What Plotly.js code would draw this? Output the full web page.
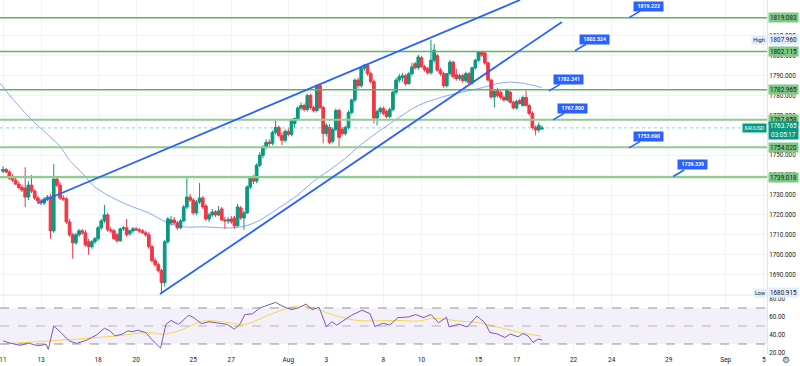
<!DOCTYPE html>
<html><head><meta charset="utf-8">
<script src="https://cdn.plot.ly/plotly-3.0.1.min.js"></script>
<style>html,body{margin:0;padding:0;background:#fff;}#chart{width:800px;height:366px;}</style>
</head><body><div id="chart"></div>
<script>
// ---- XAUUSD 4H candles (Jul 11 – Aug 18) ----
const openP = [
1742.0,1742.8,1741.6,1738.5,1737.5,1735.5,1733.8,1733.5,1729.0,1735.0,
1732.0,1728.5,1727.0,1726.0,1728.0,1729.0,1712.0,1738.0,1735.0,1728.5,
1728.0,1716.5,1710.0,1706.0,1710.0,1712.0,1711.0,1706.5,1704.0,1706.5,
1708.0,1713.5,1717.0,1720.0,1712.5,1712.0,1710.0,1707.0,1713.0,1713.5,
1710.5,1712.0,1713.0,1712.5,1712.0,1711.0,1710.0,1704.0,1697.0,1695.0,
1692.0,1686.0,1706.5,1716.0,1717.5,1716.0,1713.5,1717.0,1724.0,1729.0,
1727.5,1721.0,1726.5,1728.5,1724.5,1718.0,1720.0,1721.5,1720.0,1723.0,
1717.5,1717.0,1718.0,1718.5,1714.5,1723.5,1718.5,1721.0,1734.0,1738.5,
1737.0,1745.0,1750.0,1754.0,1756.5,1756.0,1761.5,1764.0,1760.0,1757.5,
1762.0,1760.5,1766.0,1768.5,1773.8,1775.0,1773.0,1780.0,1774.0,1772.5,
1785.0,1774.0,1761.0,1764.0,1757.0,1763.0,1772.5,1763.0,1761.0,1764.0,
1771.5,1777.8,1787.8,1785.0,1793.8,1795.3,1791.0,1787.0,1768.7,1772.0,
1773.5,1772.0,1769.5,1773.0,1781.7,1787.8,1789.0,1790.0,1786.0,1791.0,
1796.0,1794.0,1799.0,1794.5,1793.5,1791.5,1797.8,1800.0,1792.8,1791.0,
1785.0,1791.0,1796.8,1790.5,1788.5,1790.0,1787.5,1791.0,1786.5,1794.0,
1797.8,1802.0,1801.4,1796.4,1787.8,1779.3,1783.0,1781.7,1779.0,1777.8,
1781.7,1776.7,1773.8,1777.5,1775.0,1779.0,1775.0,1771.0,1764.0,1762.7,
1763.2];
const highP = [
1744.5,1743.5,1742.5,1740.5,1739.0,1737.0,1735.0,1744.0,1737.0,1740.0,
1733.0,1729.5,1728.0,1729.0,1730.0,1730.5,1745.5,1739.5,1736.5,1730.0,
1729.0,1718.0,1711.0,1711.0,1713.0,1713.0,1712.5,1708.0,1707.5,1709.0,
1714.5,1718.0,1725.0,1721.0,1714.0,1713.0,1711.0,1713.5,1714.5,1718.0,
1712.5,1714.0,1714.0,1713.5,1713.0,1712.0,1711.5,1705.0,1698.5,1696.0,
1693.0,1707.5,1719.0,1719.5,1719.0,1717.0,1718.0,1725.0,1739.0,1730.5,
1728.5,1727.5,1736.0,1729.5,1725.5,1721.0,1723.0,1722.5,1724.5,1724.0,
1719.0,1719.0,1719.5,1719.5,1725.5,1724.5,1722.0,1735.0,1739.5,1740.0,
1746.0,1751.5,1755.0,1758.0,1758.0,1762.5,1768.0,1765.0,1761.5,1763.0,
1763.5,1768.5,1769.0,1774.5,1776.5,1776.0,1781.0,1781.0,1775.0,1785.5,
1785.5,1775.0,1766.0,1765.5,1764.0,1773.5,1773.5,1764.0,1765.0,1772.5,
1778.5,1788.5,1789.0,1794.5,1796.0,1796.0,1792.0,1788.0,1773.0,1774.5,
1774.5,1773.0,1774.0,1782.5,1789.0,1791.0,1791.5,1791.0,1792.0,1796.5,
1797.0,1800.5,1800.0,1795.5,1794.5,1807.96,1806.0,1801.0,1794.0,1792.0,
1791.5,1798.0,1797.5,1793.5,1791.0,1791.0,1792.0,1792.0,1794.5,1798.5,
1802.5,1802.5,1802.0,1797.0,1788.5,1783.0,1784.0,1782.5,1780.0,1783.5,
1782.5,1777.5,1778.0,1778.5,1780.0,1782.5,1776.0,1772.0,1765.0,1766.5,
1765.0];
const lowP = [
1741.0,1741.0,1737.5,1736.5,1735.0,1733.0,1731.5,1724.0,1727.5,1731.0,
1727.5,1725.5,1725.0,1725.0,1727.0,1708.0,1711.0,1734.0,1727.5,1727.0,
1715.5,1709.0,1698.0,1705.0,1709.0,1710.0,1704.0,1700.0,1703.0,1705.5,
1707.0,1712.5,1716.0,1711.5,1711.0,1707.5,1706.0,1706.5,1712.0,1709.0,
1709.5,1711.0,1712.0,1711.0,1710.5,1709.0,1703.0,1696.0,1694.0,1691.0,
1680.915,1684.0,1705.5,1714.5,1715.0,1712.5,1713.0,1716.5,1723.0,1726.5,
1720.0,1720.0,1725.5,1723.0,1717.0,1716.5,1719.0,1719.0,1719.5,1717.0,
1713.0,1715.5,1715.5,1713.0,1714.0,1717.5,1712.5,1720.5,1733.0,1735.5,
1736.0,1744.0,1748.5,1753.0,1754.0,1755.0,1760.5,1759.0,1755.0,1756.5,
1759.5,1759.5,1764.0,1767.5,1772.5,1772.0,1772.0,1773.0,1771.5,1771.5,
1773.0,1756.0,1759.5,1755.5,1756.0,1762.0,1754.0,1760.0,1760.0,1763.0,
1770.5,1776.5,1783.5,1784.0,1792.5,1790.0,1786.0,1766.0,1765.0,1770.5,
1770.0,1768.5,1768.5,1772.0,1780.5,1786.5,1787.0,1785.0,1785.5,1790.0,
1793.0,1793.0,1794.0,1792.0,1790.5,1790.5,1796.5,1792.0,1790.0,1784.0,
1784.0,1790.0,1788.5,1787.5,1787.5,1786.5,1786.5,1785.5,1785.5,1793.0,
1797.0,1799.5,1795.5,1787.0,1778.5,1774.0,1779.0,1778.0,1777.0,1777.0,
1776.0,1773.0,1773.0,1775.5,1774.5,1774.5,1770.0,1763.0,1760.0,1761.5,
1763.0];
const closeP = [
1742.8,1741.6,1738.5,1737.5,1735.5,1733.8,1732.5,1729.0,1735.0,1732.0,
1728.5,1727.0,1726.0,1728.0,1729.0,1712.0,1738.0,1735.0,1728.5,1728.0,
1716.5,1710.0,1706.0,1710.0,1712.0,1711.0,1705.0,1704.0,1706.5,1708.0,
1713.5,1717.0,1720.0,1712.5,1712.0,1708.0,1707.0,1713.0,1713.5,1710.0,
1712.0,1713.0,1712.5,1712.0,1711.0,1710.0,1704.0,1697.0,1695.0,1692.0,
1686.0,1706.5,1718.0,1717.5,1716.0,1713.5,1717.0,1724.0,1729.0,1727.5,
1721.0,1726.5,1728.5,1724.0,1718.0,1720.0,1721.5,1720.0,1722.0,1717.5,
1717.0,1717.5,1716.5,1714.5,1724.0,1718.5,1721.0,1734.0,1738.5,1737.0,
1745.0,1750.0,1754.0,1756.5,1756.0,1761.5,1764.0,1760.0,1757.5,1762.0,
1760.5,1767.5,1768.5,1773.8,1775.0,1773.0,1780.0,1774.0,1772.5,1785.0,
1774.0,1761.0,1765.0,1756.5,1763.0,1772.5,1759.0,1761.0,1764.0,1771.5,
1777.8,1787.8,1785.0,1793.8,1795.3,1791.0,1787.0,1768.7,1772.0,1773.5,
1771.0,1769.5,1773.0,1781.7,1787.8,1789.5,1790.0,1786.0,1791.0,1794.4,
1794.0,1799.4,1794.5,1793.0,1791.5,1797.8,1802.8,1792.8,1791.0,1785.0,
1791.0,1796.8,1789.5,1788.5,1790.0,1787.5,1791.0,1786.5,1794.0,1797.8,
1802.0,1800.4,1796.4,1787.8,1779.3,1782.0,1780.0,1779.0,1777.8,1782.8,
1776.7,1773.8,1777.0,1776.0,1779.0,1775.0,1771.0,1764.0,1762.7,1765.0,
1763.765];

// Moving average (read at selected bars)
const maIdx = [-0.95,4,9,15,18,21,25,29,36,41,46,52,57,64,69,75,80,87,93,98,103,108,113,119,124,131,138,144,150,156,160,164,167,170];
const maVal = [1786.3,1776.5,1768,1759,1754.5,1747.5,1741,1734,1727.5,1724,1721,1716,1714,1714,1713.5,1714,1716.5,1723.5,1730,1737,1742.5,1748.5,1755.5,1762.5,1768,1775,1779,1781.5,1783.5,1786,1786.8,1786.2,1785.2,1784];

// RSI and its MA
const rsiIdx = [0,2.2,5.4,8,11,13.6,14.3,16,18.3,20.8,23.2,26.5,28,29.6,32,33.8,35.3,37.7,39.3,41,42.5,45,47.3,49.7,51.4,53,55.4,58.6,60.3,62.6,65,68,70.7,73,74.7,76.3,78.7,81,83.6,86,88.3,90.9,93.2,95.6,97.5,99.7,102,103.7,105.3,107.7,110,113.3,115.8,117.3,119.8,122,124.6,127.8,130.2,132.6,135,137.4,139.9,140.7,143.8,146.4,149.5,152,153.6,156,158.3,160,162.5,164,165.6,167.2,168.8,170];
const rsiVal = [33.6,31,28.5,31,28,29.5,24,50,42.7,33.6,30.7,34.4,37.3,40.2,47.5,44.5,39,41,44.5,43.8,45.3,42.7,33.6,25.5,51.8,56.2,51.8,62,59,52.5,54.7,53.6,51.8,46.4,51.8,62.7,63.5,70,73,76.2,71.8,68.2,70,74.4,68.2,70.7,49.3,54.7,51,56.5,62,67.5,63.6,49.3,53,51,59.3,60,62.7,59.3,62.7,53.6,59.8,49,52,49,61,53.6,42.7,41,37.3,41,38,41.6,39,31.8,35.5,34.4];
const rsiMaIdx = [0,15.1,23.2,36,45.7,50.5,55.4,63.4,71.5,76.3,84.2,92.4,97.2,103.7,111.7,124.6,131,135.9,143.8,150.3,156.8,163.1,169.6];
const rsiMaVal = [30,33.6,35.5,39,42.7,41,44.5,55.5,53.6,51.8,62.7,71.8,70.7,62.7,56.2,56.2,55.5,58.4,55.5,53.6,48.2,42.7,39];

// Horizontal levels, callouts, trend lines
const levels = [1819.083,1802.115,1782.965,1767.858,1754.020,1739.018];
const levelStrong = [true,true,true,false,false,false];
const calloutValues = [1819.222,1802.524,1782.341,1767.800,1753.690,1739.339];
const upperTrend = {idx:[11.04,163.1], price:[1726.0,1828.06]};
const lowerTrend = {idx:[49.5,176.3], price:[1680.2,1817.0]};
const lastPrice = 1763.765, countdown = '03:05:17';
const highVal = 1807.960, lowVal = 1680.915;

// Price-scale labels visible in the reference
const priceTicks = [1690,1700,1710,1720,1730,1740,1750,1770,1780,1790,1800,1810];
const rsiTicks = [20,40,60,80];

// Axis labels (trading days from Jul 11, 6 bars per day)
const tickLabels = ['11','13','18','20','25','27','Aug','3','8','10','15','17','22','24','29','Sep','5'];
const tickDays = [0,2,5,7,10,12,15,17,20,22,25,27,30,32,35,38,40];
const barsPerDay = 6;

// ---- drawing ----
const idx = openP.map((_, i) => i);
const FONT = 'Roboto, "Liberation Sans", sans-serif';
const GREEN = '#089981', RED = '#f23645', BLUE = '#2962ff';

const traces = [
  {type:'candlestick', x:idx, open:openP, high:highP, low:lowP, close:closeP,
   xaxis:'x', yaxis:'y', whiskerwidth:0,
   increasing:{line:{color:GREEN,width:1}, fillcolor:GREEN},
   decreasing:{line:{color:RED,width:1}, fillcolor:RED}, hoverinfo:'skip'},
  {type:'scatter', mode:'lines', x:maIdx, y:maVal, xaxis:'x', yaxis:'y',
   line:{color:'rgba(41,98,255,0.55)', width:1, shape:'spline', smoothing:1}, hoverinfo:'skip'},
  {type:'scatter', mode:'lines', x:rsiMaIdx, y:rsiMaVal, xaxis:'x', yaxis:'y2',
   line:{color:'#f5d84a', width:1, shape:'spline', smoothing:1}, hoverinfo:'skip'},
  {type:'scatter', mode:'lines', x:rsiIdx, y:rsiVal, xaxis:'x', yaxis:'y2',
   line:{color:'#7e57c2', width:1}, hoverinfo:'skip'}
];

const splitFrac = 59/354;
const shapes = [];
shapes.push({type:'rect', xref:'paper', yref:'y2', x0:0, x1:1, y0:30, y1:70, fillcolor:'rgba(126,87,194,0.09)', line:{width:0}, layer:'below'});
[70,50,30].forEach(v => shapes.push({type:'line', xref:'paper', yref:'y2', x0:0, x1:1, y0:v, y1:v,
  line:{color: v===50 ? 'rgba(120,123,134,0.5)' : 'rgba(120,123,134,0.8)', width:1, dash:'dash'}}));
shapes.push({type:'line', xref:'paper', yref:'paper', x0:0, x1:1.045, y0:splitFrac, y1:splitFrac, line:{color:'#e0e3eb', width:1}});
shapes.push({type:'line', xref:'paper', yref:'y', x0:0, x1:1, y0:lastPrice, y1:lastPrice, line:{color:'rgba(8,153,129,0.45)', width:1, dash:'dot'}});
levels.forEach((v,k) => shapes.push({type:'line', xref:'paper', yref:'y', x0:0, x1:1, y0:v, y1:v,
  line:{color: levelStrong[k] ? '#5cb660' : '#8fcc91', width: levelStrong[k] ? 1.5 : 2.2}}));
[upperTrend, lowerTrend].forEach(t => shapes.push({type:'line', xref:'x', yref:'y',
  x0:t.idx[0], x1:t.idx[1], y0:t.price[0], y1:t.price[1], line:{color:BLUE, width:1.8}}));

const annotations = [];
const axisBox = (text, y, bg, color) => ({xref:'paper', yref:'y', x:1, y:y, xanchor:'left', yanchor:'middle',
  xshift:1, text:text, showarrow:false, bgcolor:bg, borderpad:0.5, width:28, height:8,
  font:{family:FONT, size:6.3, color:color}});
levels.forEach(v => annotations.push(axisBox(v.toFixed(3), v, '#7fc782', '#131722')));
annotations.push(axisBox(highVal.toFixed(3), highVal, '#e3ecfb', '#131722'));
annotations.push(axisBox(lowVal.toFixed(3), lowVal, '#e3ecfb', '#131722'));
annotations.push({xref:'paper', yref:'y', x:1, y:highVal, xanchor:'right', yanchor:'middle', xshift:-0.5,
  text:'High', showarrow:false, bgcolor:'#e3ecfb', borderpad:0.5, width:13, height:7, font:{family:FONT,size:5.5,color:'#131722'}});
annotations.push({xref:'paper', yref:'y', x:1, y:lowVal, xanchor:'right', yanchor:'middle', xshift:-0.5,
  text:'Low', showarrow:false, bgcolor:'#e3ecfb', borderpad:0.5, width:11, height:7, font:{family:FONT,size:5.5,color:'#131722'}});
annotations.push({xref:'paper', yref:'y', x:1, y:lastPrice, xanchor:'left', yanchor:'middle', xshift:1, yshift:-3,
  text:lastPrice.toFixed(3)+'<br>'+countdown, showarrow:false, bgcolor:GREEN, borderpad:0.5, width:28, height:16,
  font:{family:FONT, size:6.3, color:'#ffffff'}});
annotations.push({xref:'paper', yref:'y', x:1, y:lastPrice, xanchor:'right', yanchor:'middle', xshift:-0.5,
  text:'XAUUSD', showarrow:false, bgcolor:GREEN, borderpad:0.5, width:22, height:7,
  font:{family:FONT, size:5.3, color:'#ffffff'}});
const calloutIdx = [197.5,180.4,172.2,173.5,197.5,211.4];
calloutValues.forEach((v,k) => annotations.push({xref:'x', yref:'y', x:calloutIdx[k], y:v,
  text:'<b>'+v.toFixed(3)+'</b>', showarrow:true, arrowhead:0, arrowwidth:1.6, arrowcolor:BLUE,
  ax:19.5, ay:-11.5, standoff:0, bgcolor:BLUE, borderpad:1.2, width:27, height:6.5,
  font:{family:FONT, size:5.2, color:'#ffffff'}}));
annotations.push({xref:'paper', yref:'paper', x:1, y:0, xanchor:'center', yanchor:'middle', xshift:19, yshift:-6,
  text:'⚙', showarrow:false, font:{family:'DejaVu Sans', size:9, color:'#555'}});

const layout = {
  width:800, height:366, margin:{l:0, r:33, t:0, b:12},
  paper_bgcolor:'#ffffff', plot_bgcolor:'#ffffff', showlegend:false,
  boxgap:0.15, boxgroupgap:0,
  font:{family:FONT, size:6.3, color:'#131722'},
  xaxis:{range:[-0.946,241.0], anchor:'y2', tickvals:tickDays.map(d => d*barsPerDay), ticktext:tickLabels,
    ticklabeloverflow:'allow',
    showgrid:true, gridcolor:'#f0f3fa', zeroline:false, showline:false, ticks:'',
    tickfont:{family:FONT, size:6.5, color:'#131722'}, rangeslider:{visible:false}, fixedrange:true},
  yaxis:{domain:[splitFrac,1], range:[1679.74,1828.06], side:'right', anchor:'x', tickvals:priceTicks,
    tickformat:'.3f', showgrid:true, gridcolor:'#f0f3fa', zeroline:false, showline:true, linecolor:'#e0e3eb',
    ticks:'', tickfont:{family:FONT, size:6.3, color:'#131722'}, fixedrange:true},
  yaxis2:{domain:[0,splitFrac], range:[18.9,84.4], side:'right', anchor:'x', tickvals:rsiTicks,
    tickformat:'.2f', showgrid:false, zeroline:false, showline:true, linecolor:'#e0e3eb', ticks:'',
    tickfont:{family:FONT, size:6.3, color:'#131722'}, fixedrange:true},
  shapes:shapes, annotations:annotations
};

Plotly.newPlot('chart', traces, layout, {staticPlot:true, displayModeBar:false});
</script>
</body></html>
